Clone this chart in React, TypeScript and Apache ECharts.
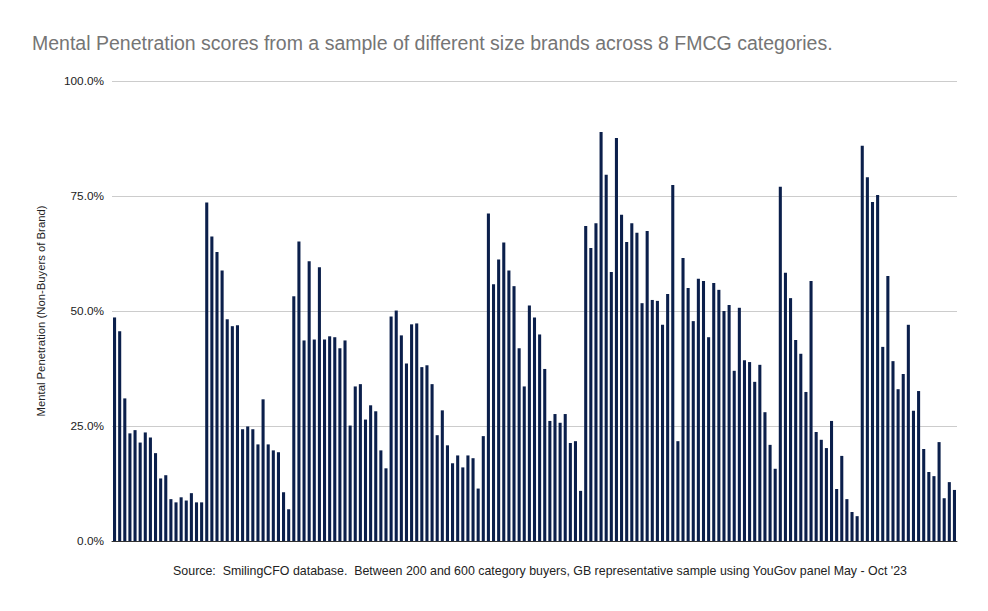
import React, { useEffect, useRef } from "react";
import * as echarts from "echarts";

const TITLE =
  "Mental Penetration scores from a sample of different size brands across 8 FMCG categories.";
const SOURCE =
  "Source:  SmilingCFO database.  Between 200 and 600 category buyers, GB representative sample using YouGov panel May - Oct '23";
const Y_NAME = "Mental Penetration (Non-Buyers of Brand)";

// Mental penetration (%) for each brand, in chart order
const values: number[] = [
  48.6, 45.6, 31.0, 23.4, 24.1, 21.4, 23.6, 22.5, 19.1, 13.6,
  14.3, 9.1, 8.4, 9.5, 8.8, 10.4, 8.4, 8.4, 73.6, 66.2,
  62.8, 58.8, 48.2, 46.7, 46.9, 24.3, 24.9, 24.3, 21.0, 30.8,
  21.0, 19.7, 19.3, 10.6, 6.9, 53.2, 65.1, 43.6, 60.8, 43.8,
  59.5, 43.8, 44.5, 44.3, 41.9, 43.6, 25.1, 33.6, 34.1, 26.4,
  29.5, 28.2, 19.7, 15.8, 48.8, 50.1, 44.7, 38.6, 47.1, 47.3,
  37.8, 38.2, 34.1, 23.0, 28.4, 20.8, 16.9, 18.6, 16.0, 18.6,
  18.0, 11.4, 22.8, 71.2, 55.8, 61.2, 64.9, 58.8, 55.4, 41.9,
  33.6, 51.2, 48.6, 44.9, 37.4, 26.1, 27.6, 25.7, 27.6, 21.3,
  21.7, 10.9, 68.5, 63.7, 69.1, 88.9, 79.6, 58.5, 87.6, 70.9,
  65.0, 69.1, 67.0, 51.7, 67.4, 52.4, 52.2, 47.0, 53.7, 77.4,
  21.7, 61.5, 55.0, 47.8, 57.0, 56.5, 44.3, 56.1, 54.6, 50.0,
  51.3, 37.0, 50.7, 39.3, 38.9, 34.6, 38.3, 28.0, 20.9, 15.7,
  77.0, 58.3, 52.8, 43.7, 40.7, 32.4, 56.5, 23.7, 22.0, 20.2,
  26.1, 11.3, 18.5, 9.1, 6.3, 5.4, 85.9, 79.1, 73.7, 75.2,
  42.2, 57.6, 39.1, 33.0, 36.3, 47.0, 28.3, 32.6, 20.0, 15.0,
  14.1, 21.5, 9.3, 12.8, 11.1,
];

const categories: string[] = values.map((_, i) => `Brand ${i + 1}`);

const FONT = "'Liberation Sans', Arial, sans-serif";

export default function App() {
  const ref = useRef<HTMLDivElement>(null);

  useEffect(() => {
    if (!ref.current) return;
    const chart = echarts.init(ref.current, undefined, { renderer: "svg" });
    chart.setOption({
      animation: false,
      backgroundColor: "#ffffff",
      textStyle: { fontFamily: FONT },
      title: {
        text: TITLE,
        left: 32,
        top: 33,
        padding: 0,
        textStyle: {
          fontFamily: FONT,
          fontSize: 19.5,
          fontWeight: "normal",
          color: "#757575",
        },
      },
      graphic: [
        {
          type: "text",
          x: 540,
          y: 571,
          style: {
            text: SOURCE,
            fontFamily: FONT,
            fontSize: 12.4,
            fill: "#222222",
            align: "center",
            verticalAlign: "middle",
          },
        },
      ],
      grid: { left: 112, right: 31, top: 81, bottom: 70, containLabel: false },
      xAxis: {
        type: "category",
        data: categories,
        axisLine: { show: true, lineStyle: { color: "#333333", width: 1 } },
        axisTick: { show: false },
        axisLabel: { show: false },
        splitLine: { show: false },
      },
      yAxis: {
        type: "value",
        min: 0,
        max: 100,
        interval: 25,
        name: Y_NAME,
        nameLocation: "middle",
        nameGap: 66,
        nameRotate: 90,
        nameTextStyle: { fontFamily: FONT, fontSize: 11.3, color: "#222222" },
        axisLine: { show: false },
        axisTick: { show: false },
        axisLabel: {
          formatter: (v: number) => `${v.toFixed(1)}%`,
          fontFamily: FONT,
          fontSize: 11.8,
          color: "#222222",
          margin: 8,
        },
        splitLine: { lineStyle: { color: "#cccccc", width: 1 } },
      },
      series: [
        {
          type: "bar",
          data: values,
          barCategoryGap: "40%",
          itemStyle: { color: "#0b1f4b" },
        },
      ],
    });
    return () => chart.dispose();
  }, []);

  return (
    <div
      ref={ref}
      style={{ position: "absolute", left: 0, top: 0, width: 988, height: 611 }}
    />
  );
}
